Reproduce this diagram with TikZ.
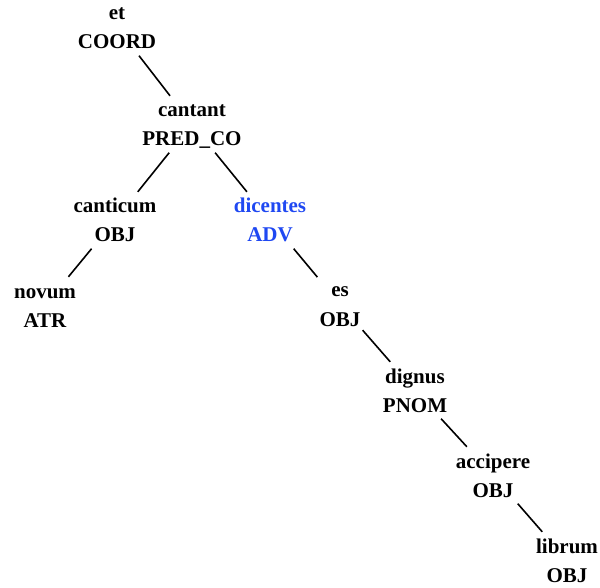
\documentclass[tikz,border=0pt]{standalone}
\usepackage{fontspec}
\setmainfont{Liberation Serif}
\usepackage{tikz}

% Parola e funzione, con altezza e profondita' fisse
\newcommand{\voce}[2]{\rule{0pt}{19pt}#1\\#2\rule[-4.5pt]{0pt}{4.5pt}}

\begin{document}
\begin{tikzpicture}[x=1pt,y=-1pt,
  parola/.style={align=center, inner sep=2pt, font=\fontsize{21}{29}\selectfont\bfseries},
  ramo/.style={line width=1.6pt}]

% Colori
\definecolor{colAdv}{HTML}{1F48F2}

% Cornice
\useasboundingbox (0,0) rectangle (600,588);

% Nodi dell'albero
\node[parola] (et) at (117,27.25) {\voce{et}{COORD}};
\node[parola] (cantant) at (192,124.25) {\voce{cantant}{PRED\_CO}};
\node[parola] (canticum) at (115,220.25) {\voce{canticum}{OBJ}};
\node[parola, text=colAdv] (dicentes) at (270,220.25) {\voce{dicentes}{ADV}};
\node[parola] (novum) at (45,305.25) {\voce{novum}{ATR}};
\node[parola] (es) at (340,304.25) {\voce{es}{OBJ}};
\node[parola] (dignus) at (415,390.25) {\voce{dignus}{PNOM}};
\node[parola] (accipere) at (493,475.25) {\voce{accipere}{OBJ}};
\node[parola] (librum) at (567,560.25) {\voce{librum}{OBJ}};

% Rami
\draw[ramo] (et) -- (cantant);
\draw[ramo] (cantant) -- (canticum);
\draw[ramo] (cantant) -- (dicentes);
\draw[ramo] (canticum) -- (novum);
\draw[ramo] (dicentes) -- (es);
\draw[ramo] (es) -- (dignus);
\draw[ramo] (dignus) -- (accipere);
\draw[ramo] (accipere) -- (librum);

\end{tikzpicture}
\end{document}
